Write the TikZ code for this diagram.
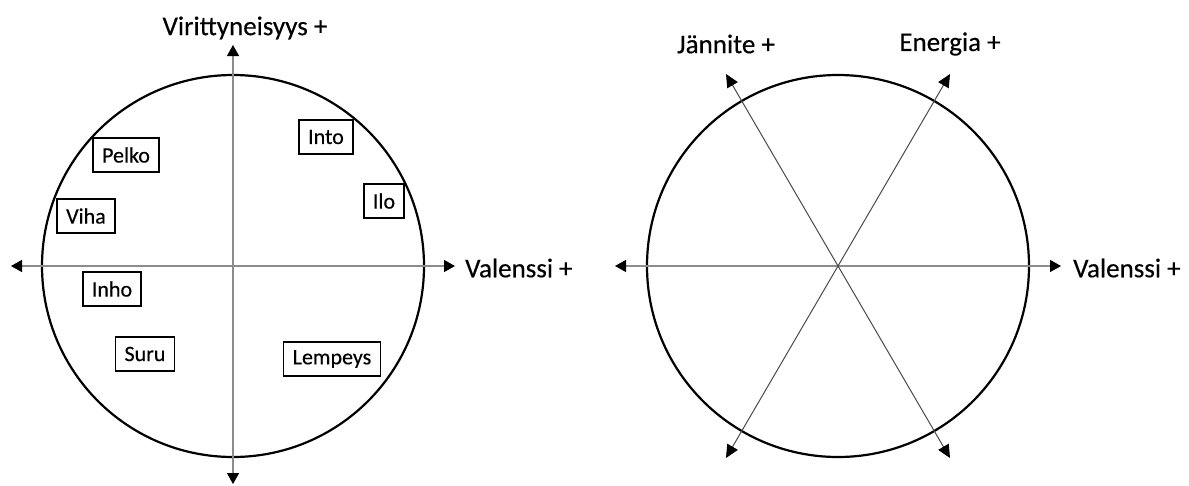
\documentclass[tikz,border=0pt]{standalone}
\usepackage{fontspec}
\setmainfont{Carlito}
\newfontfamily\heavyfont{Carlito}[FakeBold=0.35]
\usetikzlibrary{arrows.meta}
\definecolor{axisgray}{RGB}{140,140,140}
\definecolor{diaggray}{RGB}{75,75,75}
\tikzset{
  axis/.style={draw=axisgray, line width=1.3pt, {Triangle[length=11pt,width=12pt,color=black]}-{Triangle[length=11pt,width=12pt,color=black]}},
  axisb/.style={draw=diaggray, line width=1pt, {Triangle[length=13pt,width=12pt,color=black]}-{Triangle[length=13pt,width=12pt,color=black]}},
  ring/.style={circle, draw=black, line width=2.2pt, minimum size=382pt, inner sep=0pt},
  emo/.style={draw=black, line width=1.4pt, fill=white, minimum height=34pt, inner xsep=9pt, inner ysep=0pt, font=\heavyfont\fontsize{22}{26}\selectfont},
  axlabel/.style={font=\heavyfont\fontsize{27}{32}\selectfont, inner sep=0pt}
}
\begin{document}
\begin{tikzpicture}[x=1pt,y=-1pt]
\useasboundingbox (0,0) rectangle (1189,485);
% ---------- left diagram ----------
\node[ring] (c1) at (233,266) {};
\coordinate (vt) at (233,45);
\coordinate (vb) at (233,484);
\coordinate (hl) at (11,266);
\coordinate (hr) at (455,266);
\draw[axis] (vb) -- (vt);
\draw[axis] (hl) -- (hr);
\node[axlabel] (lv) at (245,28) {Virittyneisyys +};
\node[axlabel, anchor=west] (lval) at (465,268) {Valenssi +};
\node[emo] (into) at (326,137) {Into};
\node[emo] (pelko) at (126,155) {Pelko};
\node[emo] (ilo) at (384,201) {Ilo};
\node[emo] (viha) at (86,216) {Viha};
\node[emo] (inho) at (112,289) {Inho};
\node[emo] (suru) at (145,354) {Suru};
\node[emo] (lempeys) at (332,359) {Lempeys};
% ---------- right diagram ----------
\node[ring] (c2) at (838,266) {};
\coordinate (rl) at (615,266);
\coordinate (rr) at (1061,266);
\coordinate (et) at (950,74);
\coordinate (eb) at (726,458);
\coordinate (jt) at (726,74);
\coordinate (jb) at (950,458);
\draw[axis] (rl) -- (rr);
\draw[axisb] (eb) -- (et);
\draw[axisb] (jb) -- (jt);
\node[axlabel] (jan) at (726,44) {Jännite +};
\node[axlabel] (ene) at (950,44) {Energia +};
\node[axlabel, anchor=west] (rval) at (1073,268) {Valenssi +};
\end{tikzpicture}
\end{document}
